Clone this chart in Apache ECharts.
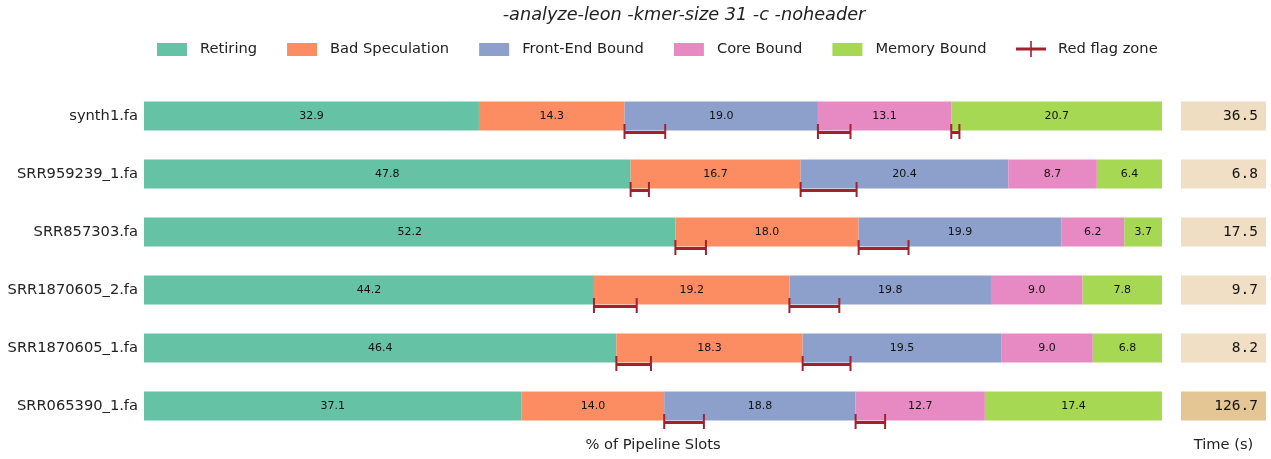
<!DOCTYPE html>
<html>
<head>
<meta charset="utf-8">
<script src="https://cdn.jsdelivr.net/npm/echarts@6/dist/echarts.min.js"></script>
<style>
html,body{margin:0;padding:0;background:#fff;}
#c{width:1271px;height:459px;}
</style>
</head>
<body>
<div id="c"></div>
<script>
const titleText = '-analyze-leon -kmer-size 31 -c -noheader';
const categories = ['synth1.fa','SRR959239_1.fa','SRR857303.fa','SRR1870605_2.fa','SRR1870605_1.fa','SRR065390_1.fa'];
const seriesNames = ['Retiring','Bad Speculation','Front-End Bound','Core Bound','Memory Bound'];
const retiring   = [32.9, 47.8, 52.2, 44.2, 46.4, 37.1];
const badSpec    = [14.3, 16.7, 18.0, 19.2, 18.3, 14.0];
const frontEnd   = [19.0, 20.4, 19.9, 19.8, 19.5, 18.8];
const coreBound  = [13.1, 8.7, 6.2, 9.0, 9.0, 12.7];
const memBound   = [20.7, 6.4, 3.7, 7.8, 6.8, 17.4];
const timesSec   = [36.5, 6.8, 17.5, 9.7, 8.2, 126.7];
// red flag zones: [rowIndex, start%, end%]
const redFlagZones = [
  [0, 47.2, 51.2], [0, 66.2, 69.4], [0, 79.3, 80.1],
  [1, 47.8, 49.6], [1, 64.5, 70.0],
  [2, 52.2, 55.2], [2, 70.2, 75.1],
  [3, 44.2, 48.4], [3, 63.4, 68.3],
  [4, 46.4, 49.8], [4, 64.7, 69.4],
  [5, 51.1, 55.0], [5, 69.9, 72.8]
];
const xAxisTitle = '% of Pipeline Slots';
const timeAxisTitle = 'Time (s)';

const colors = ['#66c2a5','#fc8d62','#8da0cb','#e78ac3','#a6d854'];
const redColor = '#a3202f';
const FONT = 'DejaVu Sans';
const FS = 14.67;
const values = [retiring, badSpec, frontEnd, coreBound, memBound];

const chart = echarts.init(document.getElementById('c'), null, {renderer:'canvas'});

const barSeries = seriesNames.map((n, i) => ({
  name: n, type: 'bar', stack: 'total', xAxisIndex: 0, yAxisIndex: 0,
  barWidth: '50%', z: 2,
  itemStyle: { color: colors[i] },
  label: { show: true, position: 'inside', color: '#111', fontSize: 11, fontFamily: FONT,
           formatter: p => p.value.toFixed(1) },
  emphasis: { disabled: true },
  data: values[i]
}));

const option = {
  animation: false,
  backgroundColor: '#fff',
  textStyle: { fontFamily: FONT },
  graphic: [{
    type: 'text', x: 684, y: 15,
    style: { text: titleText, font: 'italic 17.7px "DejaVu Sans"', fill: '#222',
             textAlign: 'center', textVerticalAlign: 'middle' }
  }],
  legend: [{
    data: seriesNames.map(n => ({ name: n, icon: 'rect' })),
    left: 157, top: 42, padding: 0, itemWidth: 30, itemHeight: 13, itemGap: 30,
    textStyle: { fontSize: FS, color: '#222', fontFamily: FONT, padding: [0, 0, 0, 8] },
    selectedMode: false
  }, {
    data: [{ name: 'Red flag zone', icon: 'path://M0,6.5h30v3h-30z M14.2,0h1.6v16h-1.6z' }],
    left: 1016, top: 41, padding: 0, itemWidth: 30, itemHeight: 16, itemGap: 30,
    textStyle: { fontSize: FS, color: '#222', fontFamily: FONT, padding: [0, 0, 0, 7] },
    selectedMode: false
  }],
  grid: [
    { left: 144, right: 109, top: 87, bottom: 24 },
    { left: 1181, right: 5, top: 87, bottom: 24 }
  ],
  xAxis: [
    { type: 'value', gridIndex: 0, min: 0, max: 100, axisLine: { show: false }, axisTick: { show: false },
      axisLabel: { show: false }, splitLine: { show: false },
      name: xAxisTitle, nameLocation: 'middle', nameGap: 3,
      nameTextStyle: { fontSize: FS, color: '#222', fontFamily: FONT, verticalAlign: 'top' } },
    { type: 'value', gridIndex: 1, min: 0, max: 1, axisLine: { show: false }, axisTick: { show: false },
      axisLabel: { show: false }, splitLine: { show: false },
      name: timeAxisTitle, nameLocation: 'middle', nameGap: 3,
      nameTextStyle: { fontSize: FS, color: '#222', fontFamily: FONT, verticalAlign: 'top' } }
  ],
  yAxis: [
    { type: 'category', gridIndex: 0, data: categories, inverse: true,
      axisLine: { show: false }, axisTick: { show: false },
      axisLabel: { fontSize: FS, color: '#222', fontFamily: FONT, margin: 6 } },
    { type: 'category', gridIndex: 1, data: categories, inverse: true,
      axisLine: { show: false }, axisTick: { show: false }, axisLabel: { show: false } }
  ],
  visualMap: {
    show: false, type: 'continuous', seriesIndex: 5, dimension: 2, min: 0, max: 126.7,
    inRange: { color: ['#f0dfc6', '#eedbbf', '#e4c594'] }
  },
  series: barSeries.concat([
    {
      name: 'time', type: 'bar', xAxisIndex: 1, yAxisIndex: 1, barWidth: '50%',
      encode: { x: 0, y: 1 },
      label: { show: true, position: 'insideRight', distance: 8, color: '#111', fontSize: 14.5,
               fontFamily: 'DejaVu Sans Mono', formatter: p => p.value[2].toFixed(1) },
      emphasis: { disabled: true },
      data: timesSec.map((t, i) => [1, i, t])
    },
    {
      name: 'Red flag zone', type: 'custom', xAxisIndex: 0, yAxisIndex: 0,
      z: 10, zlevel: 0,
      itemStyle: { color: redColor },
      encode: { x: [1, 2], y: 0 },
      data: redFlagZones,
      renderItem: function (params, api) {
        const row = api.value(0);
        const p1 = api.coord([api.value(1), row]);
        const p2 = api.coord([api.value(2), row]);
        const band = api.size([0, 1])[1];
        const yl = p1[1] + band * 0.25 + 2;
        const yc = p1[1] + band * 0.25 + 1;
        const st = { stroke: redColor, lineWidth: 3 };
        const cs = { stroke: redColor, lineWidth: 2 };
        return {
          type: 'group',
          children: [
            { type: 'line', z2: 10, shape: { x1: p1[0], y1: yl, x2: p2[0], y2: yl }, style: st },
            { type: 'line', z2: 10, shape: { x1: p1[0], y1: yc - 7.5, x2: p1[0], y2: yc + 7.5 }, style: cs },
            { type: 'line', z2: 10, shape: { x1: p2[0], y1: yc - 7.5, x2: p2[0], y2: yc + 7.5 }, style: cs }
          ]
        };
      }
    }
  ])
};
chart.setOption(option);
</script>
</body>
</html>
